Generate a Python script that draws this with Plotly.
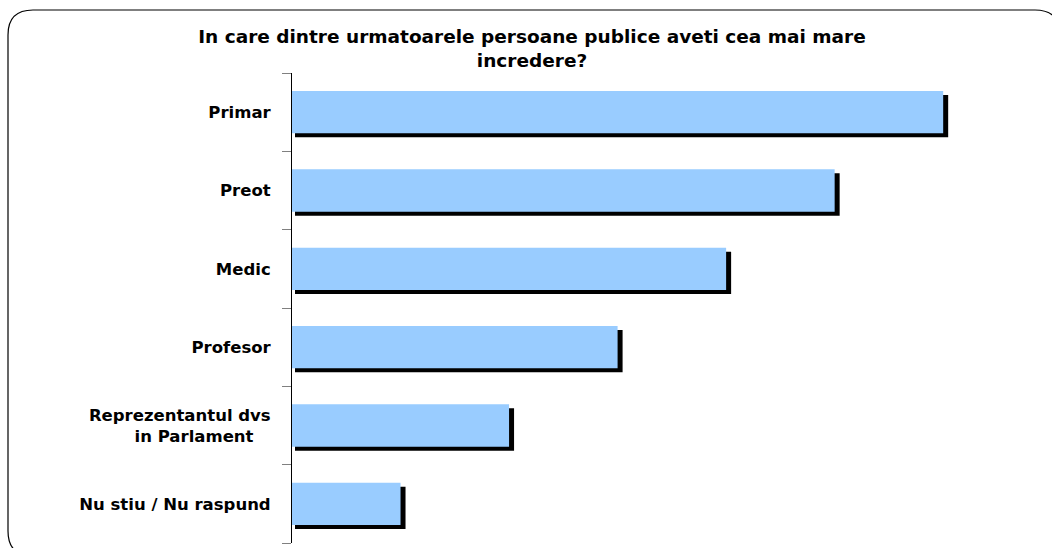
import plotly.graph_objects as go

# =============================================================================
# Data
# =============================================================================

categories = ["Primar", "Preot", "Medic", "Profesor",
              "Reprezentantul dvs<br>in Parlament", "Nu stiu / Nu raspund"]
values = [60, 50, 40, 30, 20, 10]

title_text = ("In care dintre urmatoarele persoane publice aveti cea mai mare"
              "<br>incredere?")

# tick labels: second line of the two-line label padded so it sits centred
tick_labels = [c.replace("<br>in Parlament", "<br>in Parlament" + "\u00a0" * 3)
               for c in categories]

# =============================================================================
# Layout geometry (pixels)
# =============================================================================

W, H = 1052, 548
ML, MR, MT, MB = 292, 22, 73, 5
PW = W - ML - MR
PH = H - MT - MB
XMAX = 68.0

px_x = XMAX / PW                      # value units per pixel (x)
px_y = 1.0 / (PH / len(categories))   # category units per pixel (y)

bar_w = 0.54

fig = go.Figure()

# shadow bars (drawn first, slightly right and down)
fig.add_trace(go.Bar(
    y=categories, x=[v + 2 * px_x for v in values], base=3 * px_x,
    orientation="h", width=bar_w, offset=-bar_w / 2 + 4 * px_y,
    marker=dict(color="black", line=dict(width=0)),
    hoverinfo="skip", showlegend=False))

# main bars
fig.add_trace(go.Bar(
    y=categories, x=values, orientation="h",
    width=bar_w, offset=-bar_w / 2,
    marker=dict(color="#99CCFF", line=dict(width=0)),
    showlegend=False))


# rounded frame around the whole chart
def fx(p):
    return (p - ML) / PW


def fy(p):
    return (H - MB - p) / PH


x0, y0, x1, y1, r = 8, 10, 1060, 556, 25
frame = (f"M {fx(x0)},{fy(y0 + r)} "
         f"Q {fx(x0)},{fy(y0)} {fx(x0 + r)},{fy(y0)} "
         f"L {fx(x1 - r)},{fy(y0)} "
         f"Q {fx(x1)},{fy(y0)} {fx(x1)},{fy(y0 + r)} "
         f"L {fx(x1)},{fy(y1 - r)} "
         f"Q {fx(x1)},{fy(y1)} {fx(x1 - r)},{fy(y1)} "
         f"L {fx(x0 + r)},{fy(y1)} "
         f"Q {fx(x0)},{fy(y1)} {fx(x0)},{fy(y1 - r)} Z")

fig.update_layout(
    width=W, height=H,
    margin=dict(l=ML, r=MR, t=MT, b=MB),
    paper_bgcolor="white", plot_bgcolor="white",
    barmode="overlay",
    title=dict(text=title_text, x=532 / W, xanchor="center",
               y=1 - 43 / H, yanchor="middle", yref="container",
               font=dict(family="DejaVu Sans", size=18.5, color="black",
                         weight="bold")),
    font=dict(family="DejaVu Sans", color="black"),
    shapes=[dict(type="path", path=frame, xref="paper", yref="paper",
                 line=dict(color="black", width=1.2), layer="above")],
)

fig.update_xaxes(visible=False, range=[0, XMAX])
fig.update_yaxes(
    autorange="reversed", showline=True, linecolor="black", linewidth=1,
    ticks="outside", tickson="boundaries", ticklen=9, tickcolor="#808080",
    tickwidth=1, showgrid=False, zeroline=False,
    tickmode="array", tickvals=categories, ticktext=tick_labels,
    tickfont=dict(family="DejaVu Sans", size=16.5, color="black",
                  weight="bold"),
    ticklabelstandoff=17)

# page body has no margin, so the figure sits at the window's top-left corner
fig.write_html("out.html", config={"displayModeBar": False},
               post_script="document.body.style.margin = '0';")
